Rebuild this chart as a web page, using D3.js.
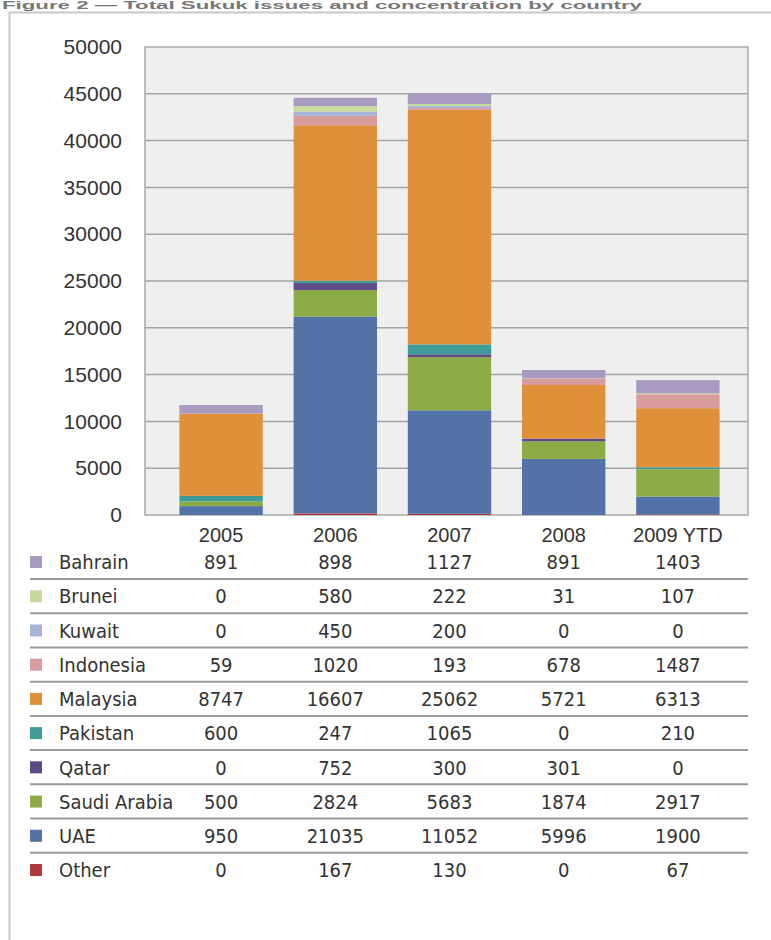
<!DOCTYPE html>
<html>
<head>
<meta charset="utf-8">
<script src="https://cdn.jsdelivr.net/npm/d3@7"></script>
<style>
  html, body { margin: 0; padding: 0; background: #ffffff; }
  svg { display: block; }
</style>
</head>
<body>
<svg id="chart" width="771" height="940"></svg>
<script>
// ---- data ----
const years = ["2005", "2006", "2007", "2008", "2009 YTD"];
// table order (top to bottom)
const countries = ["Bahrain", "Brunei", "Kuwait", "Indonesia", "Malaysia", "Pakistan", "Qatar", "Saudi Arabia", "UAE", "Other"];
const Bahrain     = [891, 898, 1127, 891, 1403];
const Brunei      = [0, 580, 222, 31, 107];
const Kuwait      = [0, 450, 200, 0, 0];
const Indonesia   = [59, 1020, 193, 678, 1487];
const Malaysia    = [8747, 16607, 25062, 5721, 6313];
const Pakistan    = [600, 247, 1065, 0, 210];
const Qatar       = [0, 752, 300, 301, 0];
const SaudiArabia = [500, 2824, 5683, 1874, 2917];
const UAE         = [950, 21035, 11052, 5996, 1900];
const Other       = [0, 167, 130, 0, 67];
const seriesValues = [Bahrain, Brunei, Kuwait, Indonesia, Malaysia, Pakistan, Qatar, SaudiArabia, UAE, Other];
const colors = ["#a99bc0", "#c6da9c", "#a6b3d8", "#d89c9c", "#e08f3a", "#3f9b98", "#5e4a85", "#8cab45", "#5272a8", "#b3383c"];
const yTicks = [0, 5000, 10000, 15000, 20000, 25000, 30000, 35000, 40000, 45000, 50000];
const titleText = "Figure 2 \u2014 Total Sukuk issues and concentration by country";

// ---- build ----
const svg = d3.select("#chart");
const rows = years.map((y, i) => {
  const r = { year: y };
  countries.forEach((c, k) => { r[c] = seriesValues[k][i]; });
  return r;
});
// stack from bottom: reverse of table order
const stackKeys = countries.slice().reverse();
const stack = d3.stack().keys(stackKeys)(rows);
const color = d3.scaleOrdinal().domain(countries).range(colors);

const plot = { left: 145, right: 748, top: 47, bottom: 515 };
const x = d3.scaleBand().domain(years).range([164, 735]).paddingInner(0.27).paddingOuter(0.135);
const y = d3.scaleLinear().domain([0, 50000]).range([plot.bottom, plot.top]);

// title (thin strip at the very top, as in the reference)
svg.append("text").attr("x", 2).attr("y", 9)
  .attr("font-family", "Liberation Sans, Arial, sans-serif").attr("font-weight", "bold")
  .attr("font-size", 10).attr("fill", "#777")
  .attr("textLength", 640).attr("lengthAdjust", "spacingAndGlyphs")
  .text(titleText);

// outer frame
svg.append("rect").attr("x", 9.5).attr("y", 12.5).attr("width", 800).attr("height", 960)
  .attr("fill", "#fff").attr("stroke", "#c8c8c8").attr("stroke-width", 2);

// plot background
svg.append("rect").attr("x", plot.left).attr("y", plot.top)
  .attr("width", plot.right - plot.left).attr("height", plot.bottom - plot.top)
  .attr("fill", "#efefef").attr("stroke", "#a8a8a8").attr("stroke-width", 1.5);

// gridlines
svg.append("g").selectAll("line").data(yTicks.filter(t => t > 0 && t < 50000)).join("line")
  .attr("x1", plot.left).attr("x2", plot.right)
  .attr("y1", d => y(d)).attr("y2", d => y(d))
  .attr("stroke", "#a3a3a3").attr("stroke-width", 1.5);

// y axis labels
const yAxis = d3.axisLeft(y).tickValues(yTicks).tickSize(0).tickPadding(0).tickFormat(d3.format("d"));
const yg = svg.append("g").attr("transform", `translate(122,0)`).call(yAxis);
yg.select(".domain").remove();
yg.selectAll("text").attr("font-family", "Liberation Sans, Arial, sans-serif")
  .attr("font-size", 21).attr("fill", "#333");

// bars
svg.append("g").selectAll("g").data(stack).join("g")
  .attr("fill", d => color(d.key))
  .selectAll("rect").data(d => d).join("rect")
  .attr("x", d => x(d.data.year))
  .attr("width", x.bandwidth())
  .attr("y", d => y(d[1]))
  .attr("height", d => y(d[0]) - y(d[1]));

// x axis labels
const xAxis = d3.axisBottom(x).tickSize(0).tickPadding(0);
const xg = svg.append("g").attr("transform", `translate(0,${plot.bottom + 13})`).call(xAxis);
xg.select(".domain").remove();
xg.selectAll("text").attr("font-family", "Liberation Sans, Arial, sans-serif")
  .attr("font-size", 20).attr("fill", "#333");

// data table
const rowY = d3.scalePoint().domain(countries).range([562, 870]);
const table = svg.append("g").attr("font-family", "DejaVu Sans Condensed, Liberation Sans Narrow, sans-serif")
  .attr("font-size", 20).attr("fill", "#333");
// separators
table.selectAll("line.sep").data(countries.slice(0, -1)).join("line")
  .attr("class", "sep")
  .attr("x1", 30).attr("x2", 748)
  .attr("y1", d => rowY(d) + 17).attr("y2", d => rowY(d) + 17)
  .attr("stroke", "#9a9a9a").attr("stroke-width", 2);
// swatches
table.selectAll("rect").data(countries).join("rect")
  .attr("x", 30).attr("y", d => rowY(d) - 6).attr("width", 12).attr("height", 12)
  .attr("fill", d => color(d));
// names
table.selectAll("text.name").data(countries).join("text")
  .attr("class", "name").attr("x", 59).attr("y", d => rowY(d))
  .attr("dy", "0.36em").text(d => d);
// values
countries.forEach((c, k) => {
  table.selectAll(null).data(seriesValues[k]).join("text")
    .attr("x", (d, i) => x(years[i]) + x.bandwidth() / 2)
    .attr("y", rowY(c)).attr("dy", "0.36em")
    .attr("text-anchor", "middle").text(d => d);
});
</script>
</body>
</html>
